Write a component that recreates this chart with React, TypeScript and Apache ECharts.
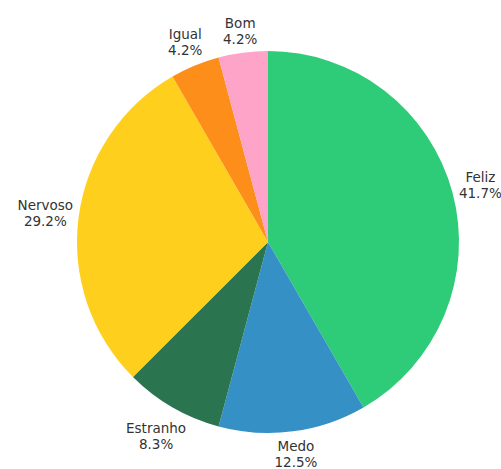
import React, { useEffect, useRef } from "react";
import * as echarts from "echarts";

const categories = ["Feliz", "Medo", "Estranho", "Nervoso", "Igual", "Bom"];
const values = [10, 3, 2, 7, 1, 1];
const colors = ["#2ECC78", "#3590C6", "#2A7550", "#FFCF1E", "#FD8E1A", "#FFA4C9"];

const LABEL_GAP = 4;

export default function App() {
  const ref = useRef<HTMLDivElement>(null);

  useEffect(() => {
    document.body.style.margin = "0";
    if (!ref.current) return;
    const chart = echarts.init(ref.current, undefined, { renderer: "svg" });
    const total = values.reduce((a, b) => a + b, 0);
    chart.setOption({
      animation: false,
      backgroundColor: "#ffffff",
      series: [
        {
          type: "pie",
          center: [268, 242],
          radius: 191,
          startAngle: 90,
          clockwise: true,
          avoidLabelOverlap: false,
          silent: true,
          itemStyle: { borderWidth: 0 },
          label: {
            show: true,
            position: "inside",
            color: "#333333",
            fontFamily: "'DejaVu Sans', sans-serif",
            fontSize: 13.5,
            lineHeight: 16,
            align: "center",
            formatter: (p: any) =>
              `${p.name}\n${((p.value / total) * 100).toFixed(1)}%`,
          },
          labelLine: { show: false },
          labelLayout: (p: any) => {
            const data = (chart as any).getModel().getSeriesByIndex(0).getData();
            const l = data.getItemLayout(p.dataIndex);
            const mid = (l.startAngle + l.endAngle) / 2;
            const dx = Math.cos(mid);
            const dy = Math.sin(mid);
            const w = p.labelRect.width;
            const h = p.labelRect.height;
            const d = l.r + LABEL_GAP + (Math.abs(dx) * w) / 2 + (Math.abs(dy) * h) / 2;
            return {
              x: l.cx + dx * d,
              y: l.cy + dy * d,
              align: "center",
              verticalAlign: "middle",
            };
          },
          data: categories.map((name, i) => ({
            name,
            value: values[i],
            itemStyle: { color: colors[i] },
          })),
        },
      ],
    });
    return () => chart.dispose();
  }, []);

  return <div ref={ref} style={{ width: 501, height: 469 }} />;
}
